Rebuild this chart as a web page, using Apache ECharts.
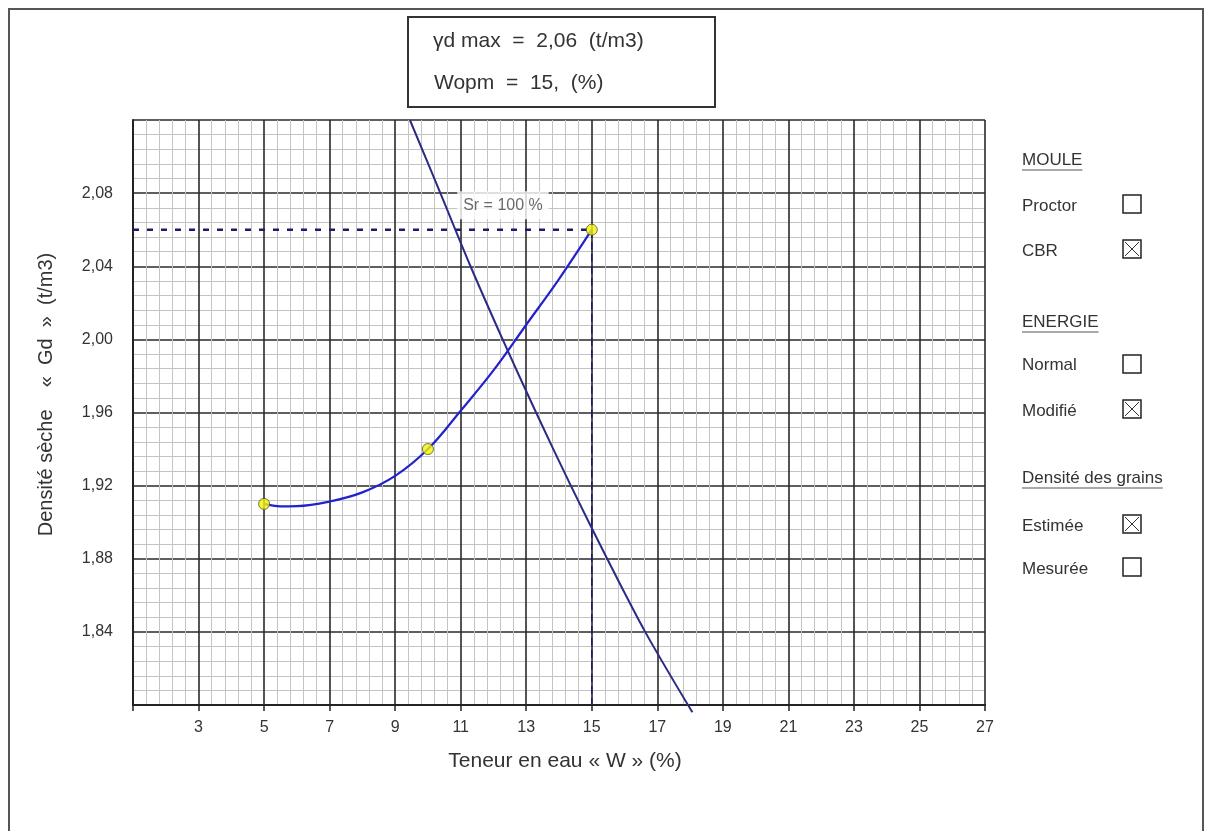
<!DOCTYPE html>
<html>
<head>
<meta charset="utf-8">
<script src="https://cdn.jsdelivr.net/npm/echarts@6/dist/echarts.min.js"></script>
<style>
  html, body { margin: 0; padding: 0; background: #ffffff; }
  #chart { width: 1206px; height: 831px; }
</style>
</head>
<body>
<div id="chart"></div>
<script>
// Proctor compaction curve: water content (%) vs dry density (t/m3)
const testW = [5, 10, 15];
const testGd = [1.910, 1.940, 2.060];

// fitted compaction curve through the test points
const curveW  = [5, 5.5, 6, 7, 8, 9, 10, 11, 12, 13, 14, 15];
const curveGd = [1.910, 1.9087, 1.9088, 1.9113, 1.9163, 1.9253, 1.940, 1.961, 1.983, 2.008, 2.033, 2.060];

// saturation line Sr = 100 %
const satW  = [9.45, 10.38, 11.30, 12.28, 13.30, 14.36, 15.47, 16.63, 18.07];
const satGd = [2.12, 2.08, 2.04, 2.00, 1.96, 1.92, 1.88, 1.84, 1.796];

// optimum
const optW = 15;
const optGd = 2.06;

const xMin = 1, xMax = 27, xStep = 2;
const yMin = 1.80, yMax = 2.12, yStep = 0.04;

const xName = 'Teneur en eau « W » (%)';
const yName = 'Densité sèche    «  Gd  »  (t/m3)';
const headerLines = ['γd max  =  2,06  (t/m3)', 'Wopm  =  15,  (%)'];
const satLabel = 'Sr = 100 %';

const panel = [
  { title: 'MOULE', items: ['Proctor', 'CBR'], checked: [false, true] },
  { title: 'ENERGIE', items: ['Normal', 'Modifié'], checked: [false, true] },
  { title: 'Densité des grains', items: ['Estimée', 'Mesurée'], checked: [true, false] }
];

const FONT = '"Liberation Sans", Arial, sans-serif';
const zip = (a, b) => a.map((v, i) => [v, b[i]]);

const chart = echarts.init(document.getElementById('chart'), null, { renderer: 'canvas' });

const graphics = [];
// outer frame
graphics.push({ type: 'rect', shape: { x: 9, y: 9, width: 1194, height: 840 },
  style: { fill: 'none', stroke: '#555', lineWidth: 2 }, z: 10 });
// header box
graphics.push({ type: 'rect', shape: { x: 408, y: 17, width: 307, height: 90 },
  style: { fill: '#fff', stroke: '#333', lineWidth: 2 }, z: 10 });
graphics.push({ type: 'text', x: 433, y: 41, z: 11,
  style: { text: headerLines[0], font: '21px ' + FONT, fill: '#333', verticalAlign: 'middle' } });
graphics.push({ type: 'text', x: 434, y: 83, z: 11,
  style: { text: headerLines[1], font: '21px ' + FONT, fill: '#333', verticalAlign: 'middle' } });

// side panel: headings with underline, options with check boxes
const titleY = [160, 322, 478];
const itemY = [[206, 251], [365, 411], [526, 569]];
const boxY = [[204, 249], [364, 409], [524, 567]];
const PFONT = '17px ' + FONT;
panel.forEach((g, gi) => {
  graphics.push({ type: 'text', x: 1022, y: titleY[gi], z: 11,
    style: { text: g.title, font: PFONT, fill: '#333', verticalAlign: 'middle' } });
  const tw = echarts.format.getTextRect
    ? echarts.format.getTextRect(g.title, PFONT).width : g.title.length * 9;
  graphics.push({ type: 'line', z: 11,
    shape: { x1: 1022, y1: titleY[gi] + 10, x2: 1022 + tw, y2: titleY[gi] + 10 },
    style: { stroke: '#555', lineWidth: 1.2 } });
  g.items.forEach((name, ii) => {
    graphics.push({ type: 'text', x: 1022, y: itemY[gi][ii], z: 11,
      style: { text: name, font: PFONT, fill: '#333', verticalAlign: 'middle' } });
    const bs = 18, bx = 1123, by = boxY[gi][ii] - bs / 2;
    graphics.push({ type: 'rect', z: 11, shape: { x: bx, y: by, width: bs, height: bs },
      style: { fill: '#fff', stroke: '#222', lineWidth: 1.5 } });
    if (g.checked[ii]) {
      graphics.push({ type: 'line', z: 11, shape: { x1: bx + 2, y1: by + 2, x2: bx + bs - 2, y2: by + bs - 2 },
        style: { stroke: '#333', lineWidth: 1 } });
      graphics.push({ type: 'line', z: 11, shape: { x1: bx + bs - 2, y1: by + 2, x2: bx + 2, y2: by + bs - 2 },
        style: { stroke: '#333', lineWidth: 1 } });
    }
  });
});

const option = {
  animation: false,
  backgroundColor: '#ffffff',
  textStyle: { fontFamily: FONT },
  grid: { left: 133, right: 221, top: 120, bottom: 126, containLabel: false },
  xAxis: {
    type: 'value', min: xMin, max: xMax, interval: xStep,
    name: xName, nameLocation: 'middle', nameGap: 46,
    nameTextStyle: { fontSize: 21, color: '#333', fontFamily: FONT, padding: [0, 0, 0, 12] },
    axisLine: { show: true, onZero: false, lineStyle: { color: '#222', width: 2 } },
    axisTick: { show: true, length: 6, lineStyle: { color: '#222', width: 1.5 } },
    axisLabel: { fontSize: 16, color: '#333', margin: 15, fontFamily: FONT,
      formatter: v => (Math.abs(v - xMin) < 1e-6 ? '' : String(Math.round(v))) },
    splitLine: { show: true, lineStyle: { color: '#2a2a2a', width: 1.6 } },
    minorTick: { show: false, splitNumber: 5 },
    minorSplitLine: { show: true, lineStyle: { color: '#c4c4c4', width: 1 } }
  },
  yAxis: {
    type: 'value', min: yMin, max: yMax, interval: yStep,
    name: yName, nameLocation: 'middle', nameGap: 77, nameRotate: 90,
    nameTextStyle: { fontSize: 20, color: '#333', fontFamily: FONT, padding: [0, 0, 0, 36] },
    axisLine: { show: true, lineStyle: { color: '#222', width: 2 } },
    axisTick: { show: false },
    axisLabel: { fontSize: 16, color: '#333', margin: 20, fontFamily: FONT,
      formatter: v => (v < yMin + 0.01 || v > yMax - 0.01 ? '' : v.toFixed(2).replace('.', ',')) },
    splitLine: { show: true, lineStyle: { color: '#2a2a2a', width: 1.6 } },
    minorTick: { show: false, splitNumber: 5 },
    minorSplitLine: { show: true, lineStyle: { color: '#c4c4c4', width: 1 } }
  },
  series: [
    { // horizontal guide at the maximum dry density
      type: 'line', data: [[xMin, optGd], [optW, optGd]], symbol: 'none', silent: true, z: 3,
      lineStyle: { color: '#1c1c6a', width: 2.5, type: [6, 8] }
    },
    { // vertical guide at the optimum water content
      type: 'line', data: [[optW, optGd], [optW, yMin]], symbol: 'none', silent: true, z: 3,
      lineStyle: { color: '#1c1c6a', width: 1.5, type: [8, 4] }
    },
    { // saturation line
      type: 'line', data: zip(satW, satGd), symbol: 'none', smooth: 0.3,
      clip: false, z: 4, lineStyle: { color: '#2b2b85', width: 2 }
    },
    { // label for the saturation line
      type: 'scatter', data: [[12.29, 2.0734]], symbolSize: 0, z: 6, silent: true,
      label: { show: true, formatter: satLabel, position: 'inside', fontSize: 16, color: '#444',
        backgroundColor: '#ffffff', padding: [6, 6], fontFamily: FONT }
    },
    { // compaction curve
      type: 'line', data: zip(curveW, curveGd), symbol: 'none', smooth: 0.4, z: 5,
      lineStyle: { color: '#2222cc', width: 2.2 }
    },
    { // test points
      type: 'scatter', data: zip(testW, testGd), symbol: 'circle', symbolSize: 11, z: 7,
      itemStyle: { color: '#f2f20a', borderColor: '#555520', borderWidth: 1 }
    }
  ],
  graphic: graphics
};

chart.setOption(option);
</script>
</body>
</html>
